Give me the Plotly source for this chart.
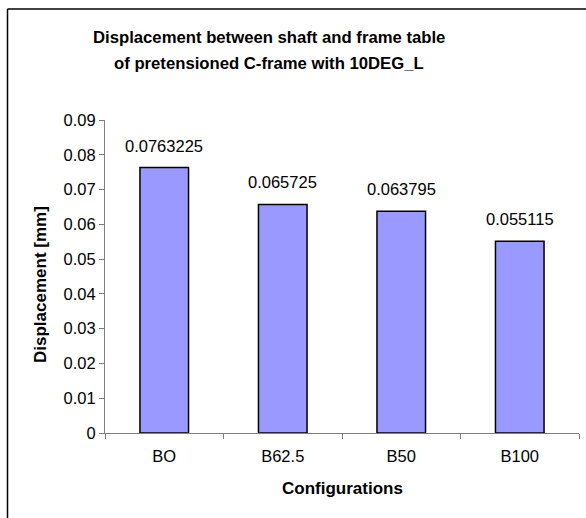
import plotly.graph_objects as go

configurations = ["BO", "B62.5", "B50", "B100"]
displacement = [0.0763225, 0.065725, 0.063795, 0.055115]
value_labels = ["0.0763225", "0.065725", "0.063795", "0.055115"]
y_ticks = [0, 0.01, 0.02, 0.03, 0.04, 0.05, 0.06, 0.07, 0.08, 0.09]
y_tick_labels = ["0", "0.01", "0.02", "0.03", "0.04", "0.05", "0.06", "0.07", "0.08", "0.09"]
title_lines = ["Displacement between shaft and frame table",
               "of pretensioned C-frame with 10DEG_L"]

W, H = 586, 518
ML, MR, MT, MB = 105, 7, 120, 85
PW, PH = W - ML - MR, H - MT - MB

def px_x(x):
    return (x - ML) / PW

def px_y(y):
    return (H - MB - y) / PH

FONT = "Liberation Sans, Arial, sans-serif"
TXT = 16.5

fig = go.Figure(
    go.Bar(
        x=configurations,
        y=displacement,
        width=0.41,
        marker=dict(color="#9999FF", line=dict(color="#000000", width=1.5)),
        hoverinfo="x+y",
    )
)

# value labels above each bar
for c, v, lab in zip(configurations, displacement, value_labels):
    fig.add_annotation(
        x=c, y=v, text=lab,
        showarrow=False, yanchor="bottom", yshift=11,
        font=dict(family=FONT, size=TXT, color="#000000"),
    )

# two-line chart title
for line, ypx in zip(title_lines, [38, 64]):
    fig.add_annotation(
        xref="paper", yref="paper", x=px_x(269), y=px_y(ypx),
        text=f"<b>{line}</b>",
        showarrow=False, xanchor="center", yanchor="middle",
        font=dict(family=FONT, size=16.7, color="#000000"),
    )

# axis titles
fig.add_annotation(
    xref="paper", yref="paper", x=px_x(342), y=px_y(488),
    text="<b>Configurations</b>", showarrow=False,
    xanchor="center", yanchor="middle",
    font=dict(family=FONT, size=17, color="#000000"),
)
fig.add_annotation(
    xref="paper", yref="paper", x=px_x(40), y=px_y(285),
    text="<b>Displacement [mm]</b>", showarrow=False, textangle=-90,
    xanchor="center", yanchor="middle",
    font=dict(family=FONT, size=17, color="#000000"),
)

# outer chart border (left and top edges)
fig.add_shape(type="line", xref="paper", yref="paper",
              x0=px_x(7.5), x1=px_x(7.5), y0=px_y(9), y1=px_y(530),
              line=dict(color="#000000", width=1.5))
fig.add_shape(type="line", xref="paper", yref="paper",
              x0=px_x(7.5), x1=px_x(600), y0=px_y(9), y1=px_y(9),
              line=dict(color="#000000", width=1.5))

fig.update_layout(
    width=W, height=H,
    margin=dict(l=ML, r=MR, t=MT, b=MB),
    paper_bgcolor="#FFFFFF", plot_bgcolor="#FFFFFF",
    showlegend=False,
    font=dict(family=FONT, size=TXT, color="#000000"),
    xaxis=dict(
        showline=True, linecolor="#808080", linewidth=1,
        ticks="outside", ticklen=5, tickcolor="#808080",
        tickson="boundaries", showgrid=False, ticklabelstandoff=8,
        tickfont=dict(family=FONT, size=TXT, color="#000000"),
        range=[-0.5, 3.5],
    ),
    yaxis=dict(
        range=[0, 0.09], tickvals=y_ticks, ticktext=y_tick_labels,
        showline=True, linecolor="#808080", linewidth=1,
        ticks="outside", ticklen=5, tickcolor="#808080",
        showgrid=False, zeroline=False,
        tickfont=dict(family=FONT, size=TXT, color="#000000"),
    ),
)

fig.write_html("out.html")
